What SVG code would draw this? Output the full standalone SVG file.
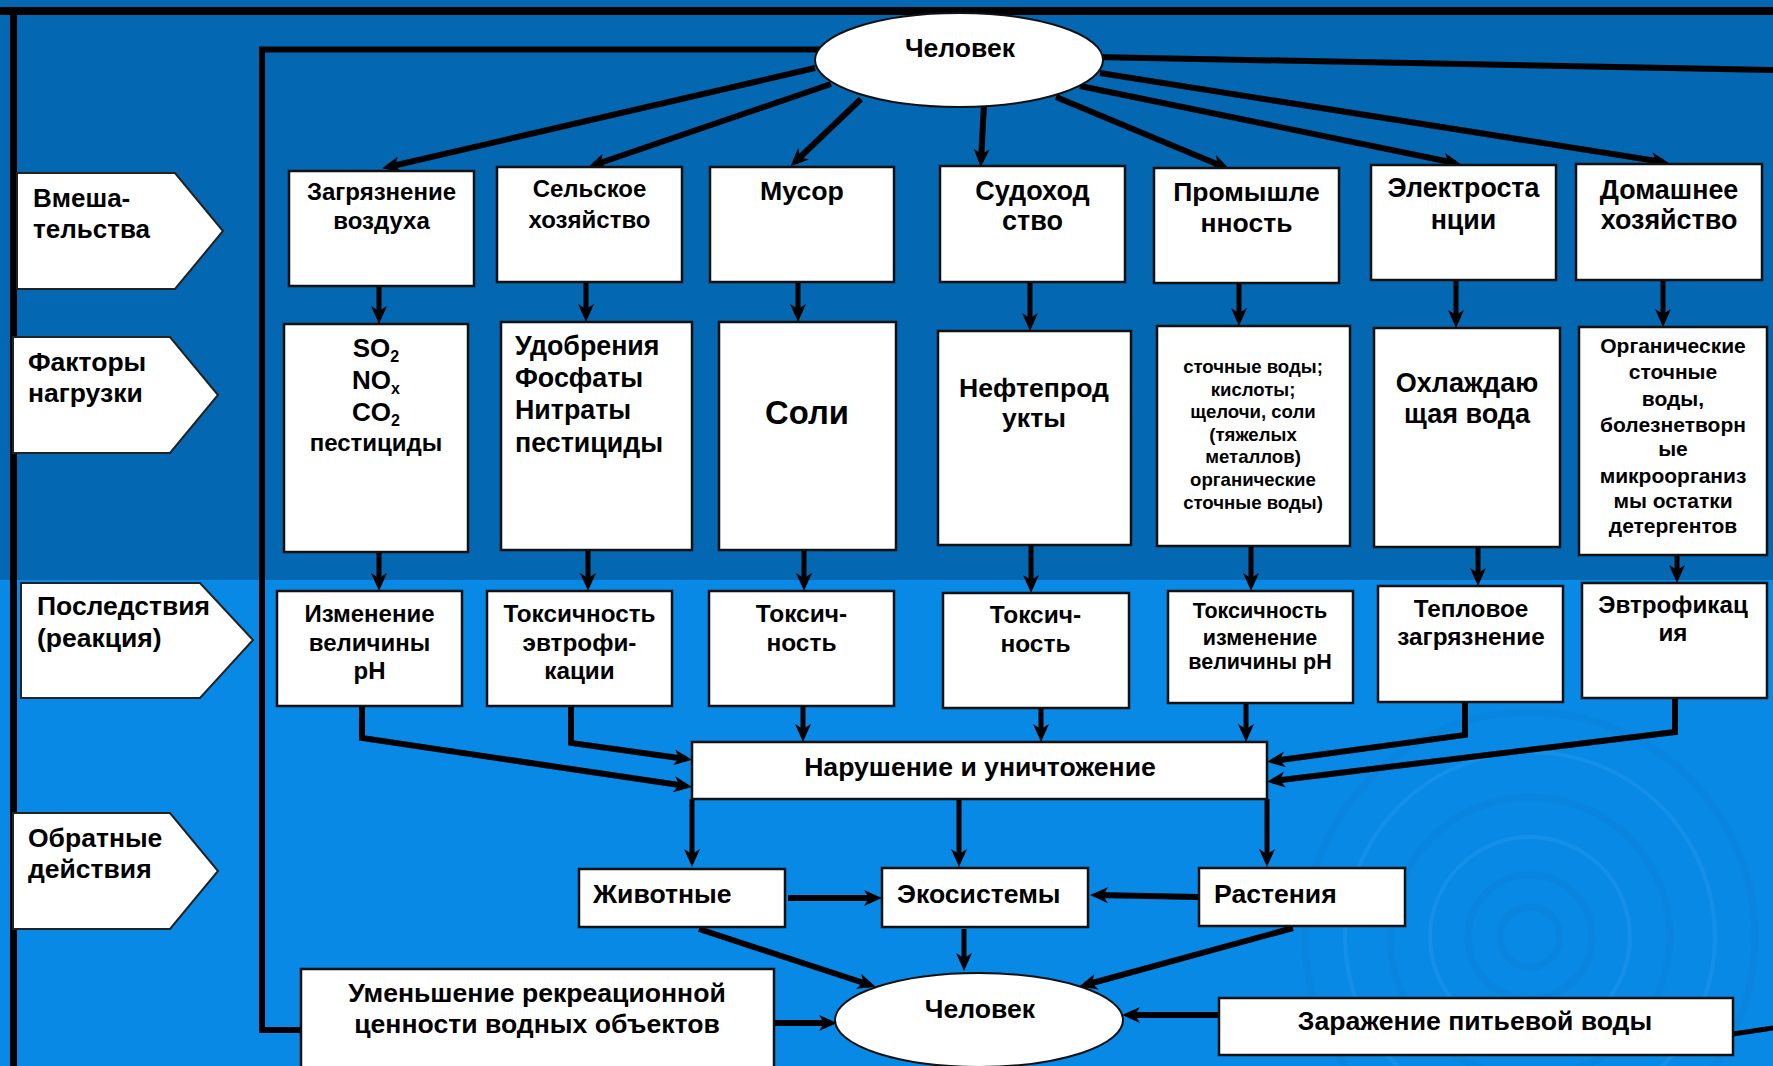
<svg xmlns="http://www.w3.org/2000/svg" width="1773" height="1066" viewBox="0 0 1773 1066">
<defs>
<marker id="ah" viewBox="0 0 18 16" refX="12" refY="8" markerWidth="18" markerHeight="16" orient="auto" markerUnits="userSpaceOnUse"><path d="M0,0 L18,8 L0,16 L5,8 z" fill="#000"/></marker>
<style>
text{font-family:"Liberation Sans",Arial,sans-serif;font-weight:bold;fill:#000}
.c{text-anchor:middle}
.box{fill:#fff;stroke:#111;stroke-width:2.5}
.pent{fill:#fff;stroke:#222;stroke-width:2}
.ln{fill:none;stroke:#000;stroke-width:5;marker-end:url(#ah)}
.lt{fill:none;stroke:#000;stroke-width:6;marker-end:url(#ah)}
.fr{fill:none;stroke:#000}
.rip{fill:none;stroke:#0a7ed6;stroke-width:7;opacity:0.45}
.ripl{fill:none;stroke:#2b9ff0;stroke-width:4;opacity:0.35}
</style>
</defs>
<rect x="0" y="0" width="1773" height="580" fill="#0467b1"/>
<rect x="0" y="580" width="1773" height="486" fill="#0889e5"/>
<g id="ripples">
<circle class="rip" cx="1530" cy="937" r="30"/>
<circle class="rip" cx="1530" cy="937" r="62"/>
<circle class="ripl" cx="1530" cy="937" r="100"/>
<circle class="rip" cx="1530" cy="937" r="140"/>
<circle class="ripl" cx="1530" cy="937" r="185"/>
<circle class="rip" cx="1530" cy="937" r="225" opacity="0.25"/>
</g>
<g id="frame">
<line class="fr" x1="0" y1="11" x2="1773" y2="11" stroke-width="8"/>
<line class="fr" x1="13.5" y1="7" x2="13.5" y2="1066" stroke-width="7"/>
<polyline class="fr" points="830,49.5 262,49.5 262,1030 302,1030" stroke-width="6"/>
<line class="fr" x1="1095" y1="57" x2="1773" y2="70" stroke-width="6"/>
<line class="fr" x1="1733" y1="1034" x2="1773" y2="1028" stroke-width="5"/>
</g>
<g id="connectors">
<line class="lt" x1="815" y1="68" x2="388" y2="167"/>
<line class="lt" x1="831" y1="84" x2="594" y2="165"/>
<line class="lt" x1="861" y1="99" x2="795" y2="162"/>
<line class="lt" x1="984" y1="104" x2="981" y2="161"/>
<line class="lt" x1="1056" y1="97" x2="1224" y2="167"/>
<line class="lt" x1="1080" y1="86" x2="1455" y2="163"/>
<line class="lt" x1="1100" y1="73" x2="1663" y2="162"/>
<line class="ln" x1="379" y1="286" x2="379" y2="318"/>
<line class="ln" x1="586" y1="282" x2="586" y2="316"/>
<line class="ln" x1="798" y1="282" x2="798" y2="316"/>
<line class="ln" x1="1030" y1="282" x2="1030" y2="325"/>
<line class="ln" x1="1239" y1="283" x2="1239" y2="320"/>
<line class="ln" x1="1456" y1="280" x2="1456" y2="322"/>
<line class="ln" x1="1663" y1="280" x2="1663" y2="321"/>
<line class="ln" x1="379" y1="552" x2="379" y2="585"/>
<line class="ln" x1="588" y1="550" x2="588" y2="585"/>
<line class="ln" x1="804" y1="550" x2="804" y2="585"/>
<line class="ln" x1="1031" y1="545" x2="1031" y2="587"/>
<line class="ln" x1="1251" y1="546" x2="1251" y2="585"/>
<line class="ln" x1="1478" y1="547" x2="1478" y2="580"/>
<line class="ln" x1="1677" y1="555" x2="1677" y2="577"/>
<polyline class="lt" points="362,706 362,738 686,786"/>
<polyline class="lt" points="571,706 571,743 686,759"/>
<line class="ln" x1="803" y1="706" x2="803" y2="736"/>
<line class="ln" x1="1041" y1="708" x2="1041" y2="736"/>
<line class="ln" x1="1246" y1="703" x2="1246" y2="736"/>
<polyline class="lt" points="1465,702 1465,735 1273,761"/>
<polyline class="lt" points="1675,698 1675,732 1273,781"/>
<line class="ln" x1="692" y1="799" x2="692" y2="861"/>
<line class="ln" x1="959" y1="799" x2="959" y2="861"/>
<line class="ln" x1="1267" y1="799" x2="1267" y2="861"/>
<line class="lt" x1="788" y1="898" x2="876" y2="898"/>
<line class="lt" x1="1199" y1="897" x2="1096" y2="895"/>
<line class="ln" x1="964" y1="929" x2="964" y2="965"/>
<line class="lt" x1="699" y1="929" x2="870" y2="985"/>
<line class="lt" x1="1293" y1="928" x2="1085" y2="985"/>
<line class="lt" x1="774" y1="1023" x2="831" y2="1023"/>
<line class="lt" x1="1219" y1="1015" x2="1128" y2="1015"/>
</g>
<g id="label-vmesh"><polygon class="pent" points="17,173 175,173 223,231 175,289 17,289"/><text x="33" y="207" font-size="26">Вмеша-</text><text x="33" y="238" font-size="26">тельства</text></g>
<g id="label-factors"><polygon class="pent" points="13,337 170,337 218,395 170,453 13,453"/><text x="28" y="371" font-size="26.5">Факторы</text><text x="28" y="402" font-size="26.5">нагрузки</text></g>
<g id="label-conseq"><polygon class="pent" points="21,583 200,583 253,640 200,698 21,698"/><text x="37" y="615" font-size="26.5">Последствия</text><text x="37" y="647" font-size="26.5">(реакция)</text></g>
<g id="label-feedback"><polygon class="pent" points="13,813 170,813 218,871 170,929 13,929"/><text x="28" y="847" font-size="26.5">Обратные</text><text x="28" y="878" font-size="26.5">действия</text></g>
<g id="human-top"><ellipse cx="959" cy="60" rx="144" ry="47" fill="#fff" stroke="#111" stroke-width="2"/><text class="c" x="960" y="57" font-size="26.5">Человек</text></g>
<g id="air"><rect class="box" x="289" y="171" width="185" height="115"/><text class="c" x="381.5" y="200" font-size="24">Загрязнение</text><text class="c" x="381.5" y="229" font-size="24">воздуха</text></g>
<g id="agri"><rect class="box" x="497" y="167" width="185" height="115"/><text class="c" x="589.5" y="197" font-size="24">Сельское</text><text class="c" x="589.5" y="228" font-size="24">хозяйство</text></g>
<g id="garbage"><rect class="box" x="710" y="167" width="184" height="115"/><text class="c" x="802" y="200" font-size="26.7">Мусор</text></g>
<g id="shipping"><rect class="box" x="940" y="166" width="185" height="116"/><text class="c" x="1032.5" y="200" font-size="27">Судоход</text><text class="c" x="1032.5" y="230" font-size="27">ство</text></g>
<g id="industry"><rect class="box" x="1154" y="168" width="185" height="115"/><text class="c" x="1246.5" y="201" font-size="26.5">Промышле</text><text class="c" x="1246.5" y="232" font-size="26.5">нность</text></g>
<g id="power"><rect class="box" x="1371" y="165" width="185" height="115"/><text class="c" x="1463.5" y="197" font-size="26.8">Электроста</text><text class="c" x="1463.5" y="229" font-size="26.8">нции</text></g>
<g id="household"><rect class="box" x="1576" y="164" width="186" height="116"/><text class="c" x="1669" y="199" font-size="26.9">Домашнее</text><text class="c" x="1669" y="229" font-size="26.9">хозяйство</text></g>
<g id="f-air"><rect class="box" x="284" y="324" width="184" height="228"/>
<text class="c" x="376" y="357" font-size="26">SO<tspan font-size="16" dy="5">2</tspan></text>
<text class="c" x="376" y="389" font-size="26">NO<tspan font-size="16" dy="5">x</tspan></text>
<text class="c" x="376" y="421" font-size="26">CO<tspan font-size="16" dy="5">2</tspan></text>
<text class="c" x="376" y="451" font-size="24">пестициды</text></g>
<g id="f-agri"><rect class="box" x="501" y="322" width="191" height="228"/><text x="515" y="355" font-size="26.8">Удобрения</text><text x="515" y="387" font-size="26.8">Фосфаты</text><text x="515" y="419" font-size="26.8">Нитраты</text><text x="515" y="452" font-size="26.8">пестициды</text></g>
<g id="f-salt"><rect class="box" x="719" y="322" width="177" height="228"/><text class="c" x="807" y="424" font-size="32.8">Соли</text></g>
<g id="f-oil"><rect class="box" x="938" y="331" width="193" height="214"/><text class="c" x="1034" y="397" font-size="26.6">Нефтепрод</text><text class="c" x="1034" y="427" font-size="26.6">укты</text></g>
<g id="f-waste"><rect class="box" x="1157" y="326" width="193" height="220"/>
<text class="c" x="1253" y="373" font-size="18.6">сточные воды;</text>
<text class="c" x="1253" y="395.5" font-size="18.6">кислоты;</text>
<text class="c" x="1253" y="418" font-size="18.6">щелочи, соли</text>
<text class="c" x="1253" y="440.5" font-size="18.6">(тяжелых</text>
<text class="c" x="1253" y="463" font-size="18.6">металлов)</text>
<text class="c" x="1253" y="485.5" font-size="18.6">органические</text>
<text class="c" x="1253" y="509" font-size="18.6">сточные воды)</text></g>
<g id="f-cool"><rect class="box" x="1374" y="328" width="186" height="219"/><text class="c" x="1467" y="392" font-size="27">Охлаждаю</text><text class="c" x="1467" y="423" font-size="27">щая вода</text></g>
<g id="f-organic"><rect class="box" x="1579" y="327" width="188" height="228"/>
<text class="c" x="1673" y="353" font-size="21">Органические</text>
<text class="c" x="1673" y="379" font-size="21">сточные</text>
<text class="c" x="1673" y="406" font-size="21">воды,</text>
<text class="c" x="1673" y="432" font-size="21">болезнетворн</text>
<text class="c" x="1673" y="456" font-size="21">ые</text>
<text class="c" x="1673" y="483" font-size="21">микроорганиз</text>
<text class="c" x="1673" y="508" font-size="21">мы остатки</text>
<text class="c" x="1673" y="533" font-size="21">детергентов</text></g>
<g id="c-ph"><rect class="box" x="277" y="591" width="185" height="115"/><text class="c" x="369.5" y="622" font-size="24">Изменение</text><text class="c" x="369.5" y="651" font-size="24">величины</text><text class="c" x="369.5" y="679" font-size="24">pH</text></g>
<g id="c-tox-eutr"><rect class="box" x="487" y="591" width="185" height="115"/><text class="c" x="579.5" y="622" font-size="24.3">Токсичность</text><text class="c" x="579.5" y="651" font-size="24.3">эвтрофи-</text><text class="c" x="579.5" y="679" font-size="24.3">кации</text></g>
<g id="c-tox1"><rect class="box" x="709" y="591" width="185" height="115"/><text class="c" x="801.5" y="622" font-size="24.5">Токсич-</text><text class="c" x="801.5" y="651" font-size="24.5">ность</text></g>
<g id="c-tox2"><rect class="box" x="943" y="593" width="186" height="115"/><text class="c" x="1035.5" y="623" font-size="24.5">Токсич-</text><text class="c" x="1035.5" y="652" font-size="24.5">ность</text></g>
<g id="c-tox-ph"><rect class="box" x="1168" y="591" width="185" height="112"/><text class="c" x="1260" y="618" font-size="21.5">Токсичность</text><text class="c" x="1260" y="645" font-size="21.5">изменение</text><text class="c" x="1260" y="669" font-size="21.5">величины pH</text></g>
<g id="c-heat"><rect class="box" x="1378" y="586" width="185" height="116"/><text class="c" x="1471" y="617" font-size="24.3">Тепловое</text><text class="c" x="1471" y="645" font-size="24.3">загрязнение</text></g>
<g id="c-eutr"><rect class="box" x="1582" y="583" width="185" height="115"/><text class="c" x="1673" y="613" font-size="24.2">Эвтрофикац</text><text class="c" x="1673" y="641" font-size="24.2">ия</text></g>
<g id="disruption"><rect class="box" x="692" y="742" width="575" height="57"/><text class="c" x="980" y="776" font-size="26.6">Нарушение и уничтожение</text></g>
<g id="animals"><rect class="box" x="579" y="869" width="206" height="58"/><text x="593" y="903" font-size="26.6">Животные</text></g>
<g id="ecosystems"><rect class="box" x="882" y="868" width="206" height="59"/><text x="897" y="903" font-size="26.6">Экосистемы</text></g>
<g id="plants"><rect class="box" x="1199" y="868" width="206" height="58"/><text x="1214" y="903" font-size="26.6">Растения</text></g>
<g id="recreation"><rect class="box" x="301" y="969" width="473" height="110"/><text class="c" x="537" y="1002" font-size="26.6">Уменьшение рекреационной</text><text class="c" x="537" y="1033" font-size="26.6">ценности водных объектов</text></g>
<g id="human-bottom"><ellipse cx="979" cy="1020" rx="144" ry="47" fill="#fff" stroke="#111" stroke-width="2"/><text class="c" x="980" y="1018" font-size="26.6">Человек</text></g>
<g id="drinking"><rect class="box" x="1219" y="998" width="514" height="57"/><text class="c" x="1475" y="1030" font-size="26.6">Заражение питьевой воды</text></g>
</svg>
